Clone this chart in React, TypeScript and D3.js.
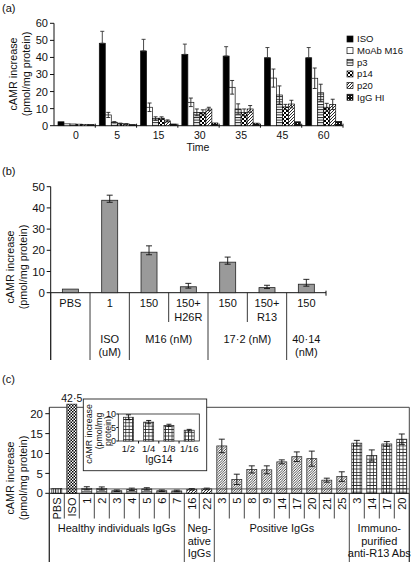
import React from "react";
import * as d3 from "d3";

const FONT = "'Liberation Sans', Arial, Helvetica, sans-serif";

// ---------- Panel (a) ----------
const timeLabels = ["0", "5", "15", "30", "35", "45", "60"];
const seriesNames = ["ISO", "MoAb M16", "p3", "p14", "p20", "IgG HI"];
const isoVals = [2.3, 48.3, 43.8, 41.8, 40.8, 39.8, 39.8];
const isoErr = [0, 7, 6.8, 6, 5.5, 6, 6];
const m16Vals = [1.1, 6.3, 10.8, 13.7, 22.5, 27.9, 27.8];
const m16Err = [0, 1.5, 2.5, 2.5, 4, 5.3, 6];
const p3Vals = [1.0, 2.0, 4.2, 7.8, 9.8, 18, 19.3];
const p3Err = [0, 0.4, 1.0, 2, 3, 5.3, 5];
const p14Vals = [0.9, 1.2, 4.4, 7.8, 7.8, 11.0, 10.8];
const p14Err = [0, 0.3, 0.8, 1.5, 2, 1.5, 2.3];
const p20Vals = [0.8, 1.0, 2.8, 9.8, 9.8, 12.7, 12.5];
const p20Err = [0, 0.2, 0.6, 1, 2, 2.2, 3];
const iggHiVals = [0.7, 0.7, 1.0, 1.6, 1.5, 2.3, 2.5];
const iggHiErr = [0, 0, 0, 0, 0, 0, 0];
const aTicks = [0, 10, 20, 30, 40, 50, 60];

// ---------- Panel (b) ----------
const bRow1 = ["PBS", "1", "150", "150+", "150", "150+", "150"];
const bRow2 = ["", "", "", "H26R", "", "R13", ""];
const bValues = [1.7, 43.6, 19.1, 2.8, 14.4, 2.4, 4.0];
const bErrors = [0, 2.4, 3.0, 1.6, 2.4, 1.1, 2.3];
const bTicks = [0, 10, 20, 30, 40, 50];
const bGroupLabels = [
  { lines: ["ISO", "(uM)"], from: 1, to: 1 },
  { lines: ["M16 (nM)"], from: 2, to: 3 },
  { lines: ["17·2 (nM)"], from: 4, to: 5 },
  { lines: ["40·14", "(nM)"], from: 6, to: 6 },
];
const bFullDividers = [0, 1, 2, 4, 6];
const bShortDividers = [3, 5];

// ---------- Panel (c) ----------
const cLabels = ["PBS", "ISO", "1", "2", "3", "4", "5", "6", "7", "16", "22", "3", "5", "8", "9", "14", "17", "20", "21", "25", "3", "14", "17", "20"];
const cValues = [1.2, 42.5, 1.25, 1.2, 0.65, 1.0, 1.1, 0.65, 0.6, 1.0, 1.1, 11.9, 3.5, 6.0, 5.9, 7.9, 9.2, 8.7, 3.3, 4.2, 12.6, 9.5, 12.4, 13.6];
const cErrors = [0, 0, 0.4, 0.4, 0.2, 0.3, 0.3, 0.2, 0.2, 0.2, 0.2, 1.7, 1.3, 0.9, 1.0, 0.5, 1.2, 1.9, 0.5, 1.2, 0.7, 1.4, 0.6, 1.3];
const cKinds = ["pbs", "iso", "healthy", "healthy", "healthy", "healthy", "healthy", "healthy", "healthy", "neg", "neg", "pos", "pos", "pos", "pos", "pos", "pos", "pos", "pos", "pos", "imm", "imm", "imm", "imm"];
const cTicks = [0, 5, 10, 15, 20];
const cThreshold = 1.1;
const cGroupLabels = [
  { lines: ["Healthy individuals IgGs"], from: 0, to: 8 },
  { lines: ["Neg-", "ative", "IgGs"], from: 9, to: 10 },
  { lines: ["Positive IgGs"], from: 11, to: 19 },
  { lines: ["Immuno-", "purified", "anti-R13 Abs"], from: 20, to: 23 },
];
const cTallDividers = [0, 9, 11, 20, 24];

// inset
const insetLabels = ["1/2", "1/4", "1/8", "1/16"];
const insetValues = [8.8, 7.0, 5.8, 4.0];
const insetErrors = [0.9, 0.6, 0.4, 0.3];
const insetTicks = [0, 5, 10];

function ErrBar({ x, yLo, yHi, w = 5, color = "#111" }: any) {
  return (
    <g stroke={color} strokeWidth={0.9}>
      <line x1={x} x2={x} y1={yLo} y2={yHi} />
      <line x1={x - w / 2} x2={x + w / 2} y1={yHi} y2={yHi} />
      {yLo !== yHi && <line x1={x - w / 2} x2={x + w / 2} y1={yLo} y2={yLo} />}
    </g>
  );
}

export default function App() {
  // ===== (a) scales =====
  const yA = d3.scaleLinear().domain([0, 60]).range([125.7, 23.3]);
  const xA = d3.scaleBand<string>().domain(timeLabels).range([54, 343]);
  const xAin = d3.scaleBand<string>().domain(seriesNames).range([0, 36]);
  const aSeries = [isoVals, m16Vals, p3Vals, p14Vals, p20Vals, iggHiVals];
  const aErrs = [isoErr, m16Err, p3Err, p14Err, p20Err, iggHiErr];
  const aFills = ["#000", "#fff", "url(#pH)", "url(#pCheck)", "url(#pDiag)", "url(#pDark)"];
  const aX0 = 54;

  // ===== (b) scales =====
  const bIdx = d3.range(bValues.length).map(String);
  const yB = d3.scaleLinear().domain([0, 50]).range([292.7, 186.7]);
  const xB = d3.scaleBand<string>().domain(bIdx).range([50.7, 326]);
  const bBound = (i: number) => 50.7 + i * xB.step();

  // ===== (c) scales =====
  const cIdx = d3.range(cValues.length).map(String);
  const yC = d3.scaleLinear().domain([0, 20]).range([493.3, 413.7]);
  const xC = d3.scaleBand<string>().domain(cIdx).range([49.3, 409.3]);
  const cBound = (i: number) => 49.3 + i * xC.step();
  const cFill: any = {
    pbs: "url(#pV)",
    iso: "url(#pFine)",
    healthy: "url(#pH)",
    neg: "url(#pDiag)",
    pos: "url(#pDiag2)",
    imm: "url(#pGrid)",
  };
  const cTopLimit = 22.4;

  // inset
  const yI = d3.scaleLinear().domain([0, 10]).range([441, 414]);
  const xI = d3.scaleBand<string>().domain(insetLabels).range([118.3, 199.3]);

  const txt = { fontFamily: FONT, fill: "#111" } as any;

  return (
    <svg width={416} height={563} style={{ position: "absolute", left: 0, top: 0, background: "#fff" }}>
      <defs>
        <pattern id="pH" width={4} height={2.6} patternUnits="userSpaceOnUse">
          <rect width={4} height={2.6} fill="#fff" />
          <rect y={0} width={4} height={1} fill="#222" />
        </pattern>
        <pattern id="pV" width={2.4} height={4} patternUnits="userSpaceOnUse">
          <rect width={2.4} height={4} fill="#fff" />
          <rect x={0} width={1} height={4} fill="#222" />
        </pattern>
        <pattern id="pCheck" width={4} height={4} patternUnits="userSpaceOnUse">
          <rect width={4} height={4} fill="#fff" />
          <rect x={0} y={0} width={2} height={2} fill="#000" />
          <rect x={2} y={2} width={2} height={2} fill="#000" />
        </pattern>
        <pattern id="pFine" width={3} height={3} patternUnits="userSpaceOnUse">
          <rect width={3} height={3} fill="#fff" />
          <rect x={0} y={0} width={1.5} height={1.5} fill="#000" />
          <rect x={1.5} y={1.5} width={1.5} height={1.5} fill="#000" />
        </pattern>
        <pattern id="pDark" width={3} height={3} patternUnits="userSpaceOnUse">
          <rect width={3} height={3} fill="#111" />
          <rect x={0} y={0} width={1} height={1} fill="#fff" />
        </pattern>
        <pattern id="pDiag" width={3} height={3} patternUnits="userSpaceOnUse">
          <rect width={3} height={3} fill="#fff" />
          <path d="M-1,1 L1,-1 M0,3 L3,0 M2,4 L4,2" stroke="#111" strokeWidth={0.9} />
        </pattern>
        <pattern id="pDiag2" width={2.5} height={2.5} patternUnits="userSpaceOnUse">
          <rect width={2.5} height={2.5} fill="#fff" />
          <path d="M-1,1 L1,-1 M0,2.5 L2.5,0 M1.5,3.5 L3.5,1.5" stroke="#222" strokeWidth={0.8} />
        </pattern>
        <pattern id="pGrid" width={3.3} height={3.3} patternUnits="userSpaceOnUse">
          <rect width={3.3} height={3.3} fill="#fff" />
          <rect x={0} y={0} width={3.3} height={0.8} fill="#222" />
          <rect x={0} y={0} width={0.8} height={3.3} fill="#222" />
        </pattern>
      </defs>

      {/* ================= (a) ================= */}
      <text x={2} y={12} fontSize={11} {...txt}>(a)</text>
      {/* y axis */}
      <line x1={aX0} x2={aX0} y1={yA(60)} y2={yA(0)} stroke="#111" />
      {aTicks.map((t) => (
        <g key={"at" + t}>
          <line x1={aX0 - 4} x2={aX0} y1={yA(t)} y2={yA(t)} stroke="#111" />
          <text x={aX0 - 6} y={yA(t)} dy="0.36em" textAnchor="end" fontSize={11} {...txt}>{t}</text>
        </g>
      ))}
      <g transform={`translate(13,74) rotate(-90)`}>
        <text textAnchor="middle" dy="0.35em" fontSize={10.8} {...txt}>cAMR increase</text>
      </g>
      <g transform={`translate(26,74) rotate(-90)`}>
        <text textAnchor="middle" dy="0.35em" fontSize={10.8} {...txt}>(pmol/mg protein)</text>
      </g>
      {/* x axis */}
      <line x1={aX0} x2={343} y1={yA(0)} y2={yA(0)} stroke="#111" />
      {timeLabels.map((t, i) => (
        <g key={"ag" + t}>
          {i > 0 && <line x1={xA(t)!} x2={xA(t)!} y1={yA(0) - 2} y2={yA(0) + 2} stroke="#111" />}
          <text x={xA(t)! + 4 + 18} y={138.5} textAnchor="middle" fontSize={10.5} {...txt}>{t}</text>
          {aSeries.map((vals, s) => {
            const x = xA(t)! + 4 + xAin(seriesNames[s])!;
            const w = xAin.bandwidth();
            const v = vals[i];
            const e = aErrs[s][i];
            return (
              <g key={s}>
                <rect x={x} y={yA(v)} width={w} height={yA(0) - yA(v)} fill={aFills[s]} stroke="#111" strokeWidth={0.7} />
                {e > 0 && (
                  s === 0 ? (
                    <ErrBar x={x + w / 2} yLo={yA(v)} yHi={yA(v + e)} w={4} color="#333" />
                  ) : (
                    <ErrBar x={x + w / 2} yLo={yA(Math.max(0, v - e))} yHi={yA(v + e)} w={4} color="#222" />
                  )
                )}
              </g>
            );
          })}
        </g>
      ))}
      <line x1={343} x2={343} y1={yA(0) - 2} y2={yA(0) + 2} stroke="#111" />
      <text x={198} y={151} textAnchor="middle" fontSize={10.5} {...txt}>Time</text>
      {/* legend */}
      {seriesNames.map((s, i) => (
        <g key={"lg" + s}>
          <rect x={347} y={36 + i * 11.65} width={6} height={6} fill={aFills[i]} stroke="#111" strokeWidth={0.7} />
          <text x={357} y={39 + i * 11.65} dy="0.36em" fontSize={9.5} {...txt}>{s}</text>
        </g>
      ))}

      {/* ================= (b) ================= */}
      <text x={2} y={175} fontSize={11} {...txt}>(b)</text>
      <line x1={50.7} x2={50.7} y1={yB(50)} y2={360} stroke="#111" />
      {bTicks.map((t) => (
        <g key={"bt" + t}>
          <line x1={46.7} x2={50.7} y1={yB(t)} y2={yB(t)} stroke="#111" />
          <text x={45} y={yB(t)} dy="0.36em" textAnchor="end" fontSize={11.5} {...txt}>{t}</text>
        </g>
      ))}
      <g transform={`translate(10,267) rotate(-90)`}>
        <text textAnchor="middle" dy="0.35em" fontSize={10.8} {...txt}>cAMR increase</text>
      </g>
      <g transform={`translate(23,267) rotate(-90)`}>
        <text textAnchor="middle" dy="0.35em" fontSize={10.8} {...txt}>(pmol/mg protein)</text>
      </g>
      <line x1={50.7} x2={326} y1={yB(0)} y2={yB(0)} stroke="#111" />
      <line x1={326} x2={326} y1={yB(0) - 2} y2={yB(0) + 3} stroke="#111" />
      {bFullDividers.map((i) => (
        <line key={"bfd" + i} x1={bBound(i)} x2={bBound(i)} y1={yB(0)} y2={360} stroke="#222" strokeWidth={0.9} />
      ))}
      {bShortDividers.map((i) => (
        <line key={"bsd" + i} x1={bBound(i)} x2={bBound(i)} y1={yB(0)} y2={322} stroke="#222" strokeWidth={0.9} />
      ))}
      {bValues.map((v, i) => {
        const c = xB(String(i))! + xB.bandwidth() / 2;
        const e = bErrors[i];
        return (
          <g key={"bb" + i}>
            <rect x={c - 8} y={yB(v)} width={16} height={yB(0) - yB(v)} fill="#9a9a9a" stroke="#222" strokeWidth={0.8} />
            {e > 0 && <ErrBar x={c} yLo={yB(v - e * 0.4)} yHi={yB(v + e)} w={6} />}
            <text x={c} y={306.5} textAnchor="middle" fontSize={11} {...txt}>{bRow1[i]}</text>
            {bRow2[i] && <text x={c} y={320.5} textAnchor="middle" fontSize={11} {...txt}>{bRow2[i]}</text>}
          </g>
        );
      })}
      {bGroupLabels.map((g, gi) => {
        const c = (bBound(g.from) + bBound(g.to + 1)) / 2;
        return (
          <g key={"bgl" + gi}>
            {g.lines.map((l, li) => (
              <text key={li} x={c} y={342.5 + li * 13.5} textAnchor="middle" fontSize={11} {...txt}>{l}</text>
            ))}
          </g>
        );
      })}

      {/* ================= (c) ================= */}
      <text x={2} y={383} fontSize={11} {...txt}>(c)</text>
      {/* frame */}
      <line x1={49.3} x2={409.3} y1={407.3} y2={407.3} stroke="#444" />
      <line x1={49.3} x2={49.3} y1={407.3} y2={562} stroke="#111" />
      {cTicks.map((t) => (
        <g key={"ct" + t}>
          <line x1={45.3} x2={49.3} y1={yC(t)} y2={yC(t)} stroke="#111" />
          <text x={43} y={yC(t)} dy="0.36em" textAnchor="end" fontSize={11.5} {...txt}>{t}</text>
        </g>
      ))}
      <g transform={`translate(10,478) rotate(-90)`}>
        <text textAnchor="middle" dy="0.35em" fontSize={10.8} {...txt}>cAMR increase</text>
      </g>
      <g transform={`translate(23,478) rotate(-90)`}>
        <text textAnchor="middle" dy="0.35em" fontSize={10.8} {...txt}>(pmol/mg protein)</text>
      </g>
      {/* bars */}
      {cValues.map((v, i) => {
        const c = xC(String(i))! + xC.bandwidth() / 2;
        const top = yC(Math.min(v, cTopLimit));
        const e = cErrors[i];
        return (
          <g key={"cb" + i}>
            <rect x={c - 5} y={top} width={10} height={yC(0) - top} fill={cFill[cKinds[i]]} stroke="#222" strokeWidth={0.7} />
            {e > 0 && <ErrBar x={c} yLo={yC(Math.max(0, v - e))} yHi={yC(v + e)} w={6} />}
            {v > cTopLimit && (
              <text x={c} y={401.5} textAnchor="middle" fontSize={10.5} {...txt}>{String(v).replace(".", "·")}</text>
            )}
            <g transform={`translate(${c},497.5) rotate(-90)`}>
              <text textAnchor="end" dy="0.36em" fontSize={11} {...txt}>{cLabels[i]}</text>
            </g>
          </g>
        );
      })}
      {/* threshold + axis */}
      <line x1={49.3} x2={409.3} y1={yC(cThreshold)} y2={yC(cThreshold)} stroke="#333" strokeWidth={0.8} />
      <line x1={49.3} x2={409.3} y1={yC(0)} y2={yC(0)} stroke="#111" />
      <line x1={409.3} x2={409.3} y1={407.3} y2={562} stroke="#444" />
      {d3.range(cValues.length + 1).map((i) =>
        cTallDividers.includes(i) ? (
          <line key={"cd" + i} x1={cBound(i)} x2={cBound(i)} y1={yC(0)} y2={562} stroke="#333" strokeWidth={0.9} />
        ) : (
          <line key={"cd" + i} x1={cBound(i)} x2={cBound(i)} y1={yC(0)} y2={518.5} stroke="#333" strokeWidth={0.9} />
        )
      )}
      {cGroupLabels.map((g, gi) => {
        const c = (cBound(g.from) + cBound(g.to + 1)) / 2;
        return (
          <g key={"cgl" + gi}>
            {g.lines.map((l, li) => (
              <text key={li} x={c} y={532 + li * 12.6} textAnchor="middle" fontSize={11} {...txt}>{l}</text>
            ))}
          </g>
        );
      })}

      {/* inset */}
      <rect x={83.3} y={399} width={123.4} height={71.7} fill="#fff" stroke="#222" strokeWidth={0.9} />
      <rect x={118.3} y={yI(10)} width={81} height={yI(0) - yI(10)} fill="none" stroke="#222" strokeWidth={0.8} />
      {insetTicks.map((t) => (
        <g key={"it" + t}>
          <line x1={116.3} x2={118.3} y1={yI(t)} y2={yI(t)} stroke="#111" />
          <text x={116} y={yI(t)} dy="0.36em" textAnchor="end" fontSize={9} {...txt}>{t}</text>
        </g>
      ))}
      {insetLabels.map((l, i) => {
        const c = xI(l)! + xI.bandwidth() / 2;
        const v = insetValues[i];
        const e = insetErrors[i];
        return (
          <g key={"ib" + l}>
            {i > 0 && <line x1={xI(l)!} x2={xI(l)!} y1={yI(0)} y2={yI(0) + 2.5} stroke="#111" />}
            <rect x={c - 5} y={yI(v)} width={10} height={yI(0) - yI(v)} fill="url(#pGrid)" stroke="#222" strokeWidth={0.7} />
            <ErrBar x={c} yLo={yI(v - e)} yHi={yI(v + e)} w={5} />
            <text x={c} y={452} textAnchor="middle" fontSize={9.5} {...txt}>{l}</text>
          </g>
        );
      })}
      <text x={158.8} y={463} textAnchor="middle" fontSize={10} {...txt}>IgG14</text>
      <g transform={`translate(88.5,434) rotate(-90)`}>
        <text textAnchor="middle" dy="0.35em" fontSize={8.8} {...txt}>cAMR increase</text>
      </g>
      <g transform={`translate(98.5,431) rotate(-90)`}>
        <text textAnchor="middle" dy="0.35em" fontSize={8.8} {...txt}>(pmol/mg</text>
      </g>
      <g transform={`translate(108,431) rotate(-90)`}>
        <text textAnchor="middle" dy="0.35em" fontSize={8.8} {...txt}>protein)</text>
      </g>
    </svg>
  );
}
